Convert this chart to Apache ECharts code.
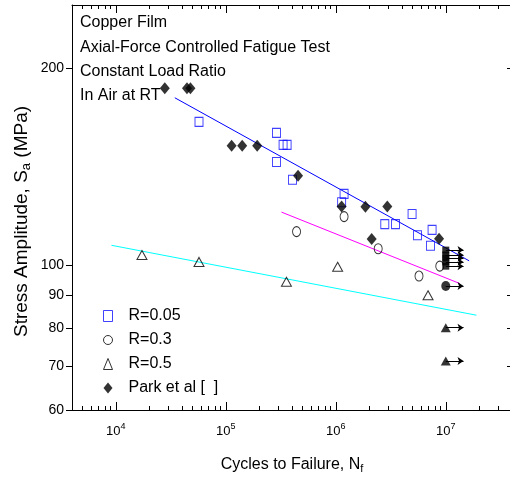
<!DOCTYPE html>
<html>
<head>
<meta charset="utf-8">
<script src="https://cdn.jsdelivr.net/npm/echarts@6/dist/echarts.min.js"></script>
<style>
html, body { margin: 0; padding: 0; background: #fff; }
#main { width: 510px; height: 477px; }
</style>
</head>
<body>
<div id="main"></div>
<script>
// R=0.05, open squares
var sqN = [5.71e4, 2.89e5, 3.32e5, 3.61e5, 2.89e5, 4.04e5, 1.19e6, 1.13e6, 2.79e6, 3.49e6, 4.94e6, 5.53e6, 7.51e6, 7.26e6];
var sqS = [165.6, 159.3, 152.7, 152.7, 143.8, 135.1, 128.5, 124.8, 115.5, 115.5, 119.7, 111.1, 113.2, 107.0];
// R=0.3, open circles
var ciN = [4.40e5, 1.19e6, 2.43e6, 5.71e6, 8.82e6];
var ciS = [112.5, 118.6, 105.9, 96.2, 99.6];
// R=0.5, open triangles
var trN = [1.73e4, 5.71e4, 3.56e5, 1.04e6, 6.90e6];
var trS = [103.6, 101.1, 94.3, 99.4, 89.9];
// Park et al, filled diamonds
var pkN = [2.79e4, 4.44e4, 4.77e4, 1.13e5, 1.41e5, 1.93e5, 4.54e5, 1.13e6, 1.86e6, 2.94e6, 2.12e6, 8.69e6];
var pkS = [186.4, 186.4, 186.4, 152.3, 152.3, 152.3, 137.0, 122.9, 122.8, 122.9, 109.6, 109.7];
// run-outs (no failure) at 10^7 cycles
var runN = 1e7, arrowEndN = 1.45e7;
var runSqS = [105.4, 103.6, 102.5, 101.1, 99.6];
var runCiS = [92.9];
var runTrS = [80.2, 71.3];
// fitted lines (end points)
var blueN = [3.44e4, 1.63e7], blueS = [180.3, 101.5];
var magN = [3.21e5, 1.34e7], magS = [120.5, 93.7];
var cyanN = [9.15e3, 1.90e7], cyanS = [107.2, 83.8];
// ticks
var xMajor = [1e4, 1e5, 1e6, 1e7];
var yTicks = [60, 70, 80, 90, 100, 200];
var notes = ['Copper Film', 'Axial-Force Controlled Fatigue Test', 'Constant Load Ratio', 'In Air at RT'];

var FONT = 'Liberation Sans, Arial, sans-serif';

var xMinor = [];
for (var e = 3; e <= 7; e++) {
    for (var m = 2; m <= 9; m++) {
        var v = m * Math.pow(10, e);
        if (v > 4000 && v < 4e7) xMinor.push(v);
    }
}

function pairs(xs, ys) {
    return xs.map(function (x, i) { return [x, ys[i]]; });
}
function arrows(ys) {
    return ys.map(function (y) { return { coords: [[runN, y], [arrowEndN, y]] }; });
}

var myChart = echarts.init(document.getElementById('main'));

function xAxisCfg(pos, ticks, len, showLine, labels) {
    return {
        type: 'log', logBase: 10, min: 4000, max: 4e7, position: pos,
        axisLine: { show: showLine, lineStyle: { color: '#000', width: 1 } },
        axisTick: { show: true, inside: true, length: len, customValues: ticks, lineStyle: { color: '#000' } },
        axisLabel: labels ? {
            customValues: xMajor, margin: 12,
            formatter: function (v) { return '{b|10}{s|' + Math.round(Math.log10(v)) + '}'; },
            rich: {
                b: { fontSize: 13, fontFamily: FONT, color: '#000' },
                s: { fontSize: 9, fontFamily: FONT, color: '#000', padding: [0, 0, 9, 0] }
            }
        } : { show: false },
        splitLine: { show: false }
    };
}

option = {
    animation: false,
    backgroundColor: '#fff',
    grid: { left: 72, top: 5, width: 440, height: 405, outerBoundsMode: 'none', containLabel: false },
    legend: {
        orient: 'vertical', left: 98, top: 303, itemGap: 8,
        itemWidth: 9, itemHeight: 11,
        itemStyle: { borderWidth: 1 },
        textStyle: { fontSize: 16, fontFamily: FONT, color: '#000', padding: [0, 0, 0, 11] },
        data: ['R=0.05', 'R=0.3', 'R=0.5', 'Park et al [  ]']
    },
    graphic: notes.map(function (t, i) {
        return {
            type: 'text', left: 80, top: 15 + i * 24.3,
            style: { text: t, fontSize: 16, fontFamily: FONT, fill: '#000' }
        };
    }),
    xAxis: [
        (function () {
            var a = xAxisCfg('bottom', xMajor, 8, true, true);
            a.name = '{t|Cycles to Failure, N}{u|f}';
            a.nameLocation = 'middle';
            a.nameGap = 45;
            a.nameMoveOverlap = false;
            a.nameTextStyle = {
                rich: {
                    t: { fontSize: 16, fontFamily: FONT, color: '#000' },
                    u: { fontSize: 11, fontFamily: FONT, color: '#000', padding: [8, 0, 0, 0] }
                }
            };
            return a;
        })(),
        xAxisCfg('bottom', xMinor, 4, false, false),
        xAxisCfg('top', xMajor, 8, true, false),
        xAxisCfg('top', xMinor, 4, false, false)
    ],
    yAxis: [
        {
            type: 'log', logBase: 10, min: 60, max: 250, position: 'left',
            axisLine: { show: true, lineStyle: { color: '#000', width: 1 } },
            axisTick: { show: true, inside: false, length: 6, customValues: yTicks, lineStyle: { color: '#000' } },
            axisLabel: { customValues: yTicks, margin: 8, fontSize: 14, fontFamily: FONT, color: '#000' },
            splitLine: { show: false },
            name: '{t|Stress Amplitude, S}{u|a}{t| (MPa)}',
            nameLocation: 'middle', nameGap: 39, nameRotate: 90,
            nameMoveOverlap: false,
            nameTextStyle: {
                padding: [0, 28, 0, 0],
                rich: {
                    t: { fontSize: 19, fontFamily: FONT, color: '#000' },
                    u: { fontSize: 13, fontFamily: FONT, color: '#000', padding: [10, 0, 0, 0] }
                }
            }
        },
        {
            type: 'log', logBase: 10, min: 60, max: 250, position: 'right',
            axisLine: { show: true, lineStyle: { color: '#000', width: 1 } },
            axisTick: { show: true, inside: true, length: 5, customValues: yTicks, lineStyle: { color: '#000' } },
            axisLabel: { show: false },
            splitLine: { show: false }
        }
    ],
    series: [
        { name: 'fitBlue', type: 'line', data: pairs(blueN, blueS), symbol: 'none', lineStyle: { color: '#0000ff', width: 1 }, z: 1 },
        { name: 'fitMagenta', type: 'line', data: pairs(magN, magS), symbol: 'none', lineStyle: { color: '#ff00ff', width: 1 }, z: 1 },
        { name: 'fitCyan', type: 'line', data: pairs(cyanN, cyanS), symbol: 'none', lineStyle: { color: '#00ffff', width: 1 }, z: 1 },
        {
            name: 'R=0.05', type: 'scatter', data: pairs(sqN, sqS), symbol: 'rect', symbolSize: [8, 9],
            itemStyle: { color: 'rgba(255,255,255,0)', borderColor: '#1010ff', borderWidth: 1 }
        },
        {
            name: 'R=0.3', type: 'scatter', data: pairs(ciN, ciS), symbol: 'circle', symbolSize: [8, 10],
            itemStyle: { color: 'rgba(255,255,255,0)', borderColor: '#000', borderWidth: 1 }
        },
        {
            name: 'R=0.5', type: 'scatter', data: pairs(trN, trS), symbol: 'triangle', symbolSize: [10, 9],
            itemStyle: { color: 'rgba(255,255,255,0)', borderColor: '#000', borderWidth: 1 }
        },
        {
            name: 'Park et al [  ]', type: 'scatter', data: pairs(pkN, pkS), symbol: 'diamond', symbolSize: [10, 12],
            itemStyle: { color: '#000' }
        },
        {
            name: 'runSq', type: 'scatter', data: runSqS.map(function (s) { return [runN, s]; }),
            symbol: 'rect', symbolSize: [7, 7], itemStyle: { color: '#000' }
        },
        {
            name: 'runCi', type: 'scatter', data: runCiS.map(function (s) { return [runN, s]; }),
            symbol: 'circle', symbolSize: [9, 10], itemStyle: { color: '#000' }
        },
        {
            name: 'runTr', type: 'scatter', data: runTrS.map(function (s) { return [runN, s]; }),
            symbol: 'triangle', symbolSize: [10, 9], itemStyle: { color: '#000' }
        },
        {
            name: 'arrows', type: 'lines', coordinateSystem: 'cartesian2d',
            data: arrows(runSqS.concat(runCiS, runTrS)),
            symbol: ['none', 'arrow'], symbolSize: 6,
            lineStyle: { color: '#000', width: 1, opacity: 1 }
        }
    ]
};
myChart.setOption(option);
</script>
</body>
</html>
